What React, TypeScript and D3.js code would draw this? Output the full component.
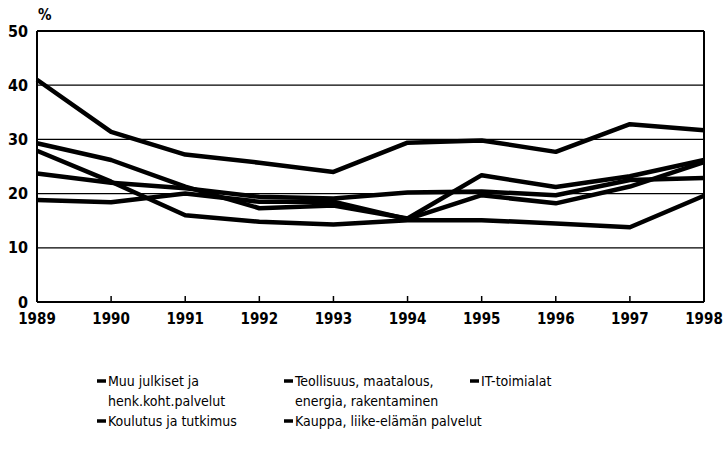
import React from "react";
import * as d3 from "d3";

const years = [1989, 1990, 1991, 1992, 1993, 1994, 1995, 1996, 1997, 1998];
const yTicks = [0, 10, 20, 30, 40, 50];

// five sectors, all drawn in black
const muuJulkiset = [41, 31.4, 27.2, 25.7, 24, 29.4, 29.8, 27.7, 32.8, 31.7];
const teollisuus = [29.3, 26.2, 21.3, 17.3, 17.8, 15.4, 23.4, 21.2, 23.2, 26.2];
const itToimialat = [23.7, 22, 21, 19.4, 19.1, 20.2, 20.4, 19.7, 22.5, 22.9];
const koulutus = [18.8, 18.4, 20, 18.5, 18.5, 15.3, 19.7, 18.2, 21.3, 25.8];
const kauppa = [27.9, 22.2, 16, 14.8, 14.3, 15.1, 15.1, 14.5, 13.8, 19.6];

const seriesList = [muuJulkiset, teollisuus, itToimialat, koulutus, kauppa];

const legendItems = [
  { lines: ["Muu julkiset ja", "henk.koht.palvelut"], col: 0, row: 0 },
  { lines: ["Teollisuus, maatalous,", "energia, rakentaminen"], col: 1, row: 0 },
  { lines: ["IT-toimialat"], col: 2, row: 0 },
  { lines: ["Koulutus ja tutkimus"], col: 0, row: 2 },
  { lines: ["Kauppa, liike-elämän palvelut"], col: 1, row: 2 },
];

const width = 725;
const height = 462;
const margin = { top: 31, right: 21, bottom: 160, left: 37 };
const font = "'Liberation Sans Narrow', 'DejaVu Sans Condensed', 'Liberation Sans', sans-serif";

export default function App() {
  const x = d3
    .scaleLinear()
    .domain([1989, 1998])
    .range([margin.left, width - margin.right]);
  const y = d3
    .scaleLinear()
    .domain([0, 50])
    .range([height - margin.bottom, margin.top]);

  const line = d3
    .line<number>()
    .x((_, i) => x(years[i]))
    .y((d) => y(d));

  const legendX = [97, 284, 470];
  const legendY0 = 381;
  const rowH = 20;

  return (
    <svg
      width={width}
      height={height}
      style={{ position: "absolute", left: 0, top: 0, background: "#fff" }}
      fontFamily={font}
    >
      {/* gridlines */}
      {yTicks
        .filter((t) => t > 0)
        .map((t) => (
          <line
            key={t}
            x1={x(1989)}
            x2={x(1998)}
            y1={y(t)}
            y2={y(t)}
            stroke="#000"
            strokeWidth={t === 50 ? 2 : 1.2}
          />
        ))}
      {/* frame */}
      <line x1={x(1989)} x2={x(1989)} y1={y(50)} y2={y(0)} stroke="#000" strokeWidth={2} />
      <line x1={x(1998)} x2={x(1998)} y1={y(50)} y2={y(0)} stroke="#000" strokeWidth={2} />
      <line x1={x(1989)} x2={x(1998)} y1={y(0)} y2={y(0)} stroke="#000" strokeWidth={2} />
      {years.slice(1, -1).map((yr) => (
        <line key={yr} x1={x(yr)} x2={x(yr)} y1={y(0)} y2={y(0) - 6} stroke="#000" strokeWidth={1.5} />
      ))}

      {/* y labels */}
      {yTicks.map((t) => (
        <text
          key={t}
          x={28}
          y={y(t)}
          dy="0.35em"
          textAnchor="end"
          fontSize={16}
          fontWeight="bold"
        >
          {t}
        </text>
      ))}
      <text x={38} y={20} fontSize={15} fontWeight="bold">
        %
      </text>

      {/* x labels */}
      {years.map((yr) => (
        <text key={yr} x={x(yr)} y={y(0) + 22} textAnchor="middle" fontSize={15} fontWeight="bold">
          {yr}
        </text>
      ))}

      {/* lines */}
      {seriesList.map((s, i) => (
        <path
          key={i}
          d={line(s) ?? ""}
          fill="none"
          stroke="#000"
          strokeWidth={4.5}
          strokeLinejoin="round"
        />
      ))}

      {/* legend */}
      {legendItems.map((item, i) => {
        const lx = legendX[item.col];
        const ly = legendY0 + item.row * rowH;
        return (
          <g key={i}>
            <line x1={lx} x2={lx + 9} y1={ly} y2={ly} stroke="#000" strokeWidth={3.5} />
            {item.lines.map((t, j) => (
              <text key={j} x={lx + 11} y={ly + j * rowH} dy="0.35em" fontSize={14}>
                {t}
              </text>
            ))}
          </g>
        );
      })}
    </svg>
  );
}
